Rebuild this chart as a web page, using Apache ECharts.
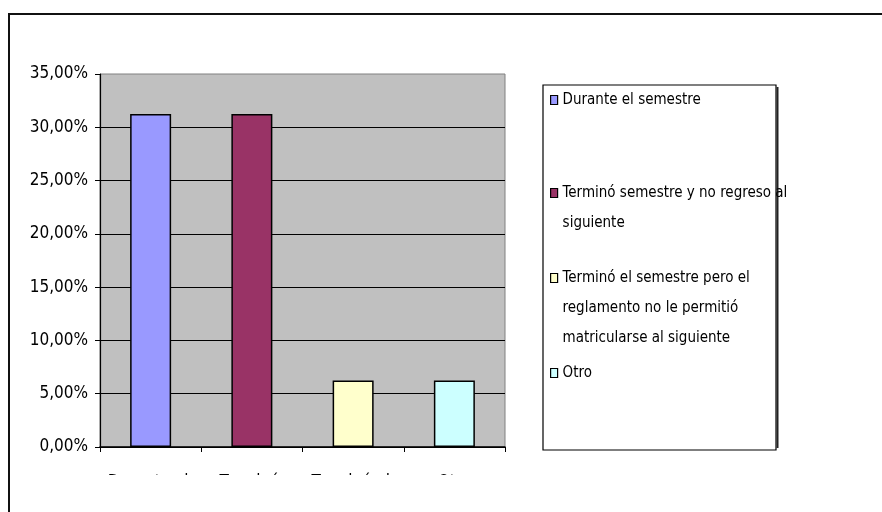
<!DOCTYPE html>
<html>
<head>
<meta charset="utf-8">
<title>Deserción</title>
<script src="https://cdn.jsdelivr.net/npm/echarts@6/dist/echarts.min.js"></script>
<style>
html, body { margin: 0; padding: 0; background: #fff; overflow: hidden; }
#frame { position: absolute; left: 8px; top: 13px; width: 900px; height: 520px;
         border-left: 2px solid #111; border-top: 2px solid #111; }
#chart { position: absolute; left: 0; top: 0; width: 882px; height: 475px; }
</style>
</head>
<body>
<div id="frame"></div>
<div id="chart"></div>
<script>
var categories = [
    'Durante el semestre',
    'Terminó semestre y no regreso al siguiente',
    'Terminó el semestre pero el reglamento no le permitió matricularse al siguiente',
    'Otro'
];
var values = [31.25, 31.25, 6.25, 6.25];
var colors = ['#9999FF', '#993366', '#FFFFCC', '#CCFFFF'];
// texto de la leyenda tal como se corta en el original
var legendText = [
    'Durante el semestre',
    'Terminó semestre y no regreso al\nsiguiente',
    'Terminó el semestre pero el\nreglamento no le permitió\nmatricularse al siguiente',
    'Otro'
];
var legendTop = [85, 148, 203, 358];

var font = "'Liberation Sans Narrow', 'Arial Narrow', 'DejaVu Sans Condensed', sans-serif";
var LH = 30;

var chart = echarts.init(document.getElementById('chart'));

var series = categories.map(function (name, i) {
    return {
        name: name,
        type: 'bar',
        barWidth: 41,
        barGap: '-100%',
        itemStyle: { color: colors[i], borderColor: '#000', borderWidth: 1.5 },
        data: categories.map(function (c, j) { return j === i ? values[i] : '-'; })
    };
});

// lineas vacias delante para que el cuadrito quede en la primera linea
var legends = categories.map(function (name, i) {
    var lines = legendText[i].split('\n').length;
    var txt = new Array(lines).join('\n') + legendText[i];
    return {
        data: [name],
        left: 550,
        top: legendTop[i],
        padding: 0,
        icon: 'rect',
        itemWidth: 7,
        itemHeight: 9,
        itemStyle: { borderColor: '#000', borderWidth: 1.2 },
        formatter: function () { return txt; },
        textStyle: { fontFamily: font, fontSize: 15, color: '#000', lineHeight: LH }
    };
});

var option = {
    animation: false,
    textStyle: { fontFamily: font },
    graphic: [
        {
            type: 'rect', z: -1,
            shape: { x: 543, y: 85, width: 233, height: 365 },
            style: { fill: '#fff', stroke: '#000', lineWidth: 1.2 }
        },
        {
            type: 'line', z: -1,
            shape: { x1: 777.5, y1: 87, x2: 777.5, y2: 448 },
            style: { stroke: '#222', lineWidth: 2 }
        }
    ],
    grid: {
        left: 100, right: 377, top: 74, bottom: 28,
        containLabel: false, outerBoundsMode: 'none',
        show: true, backgroundColor: '#C0C0C0', borderColor: '#808080', borderWidth: 1
    },
    legend: legends,
    xAxis: {
        type: 'category',
        data: categories,
        axisLine: { lineStyle: { color: '#000', width: 1.5 } },
        axisTick: { show: true, length: 5, lineStyle: { color: '#000' } },
        axisLabel: {
            interval: 0, margin: 27, color: '#000', fontSize: 17, fontFamily: font,
            width: 100, overflow: 'break'
        }
    },
    yAxis: {
        type: 'value',
        min: 0, max: 35, interval: 5,
        axisLine: { show: true, lineStyle: { color: '#000', width: 1.2 } },
        axisTick: { show: true, length: 5, lineStyle: { color: '#000' } },
        splitLine: { show: true, showMaxLine: false, lineStyle: { color: '#000', width: 1 } },
        axisLabel: {
            margin: 12, color: '#000', fontSize: 17, fontFamily: font,
            formatter: function (v) { return v.toFixed(2).replace('.', ',') + '%'; }
        }
    },
    series: series
};

chart.setOption(option);
</script>
</body>
</html>
